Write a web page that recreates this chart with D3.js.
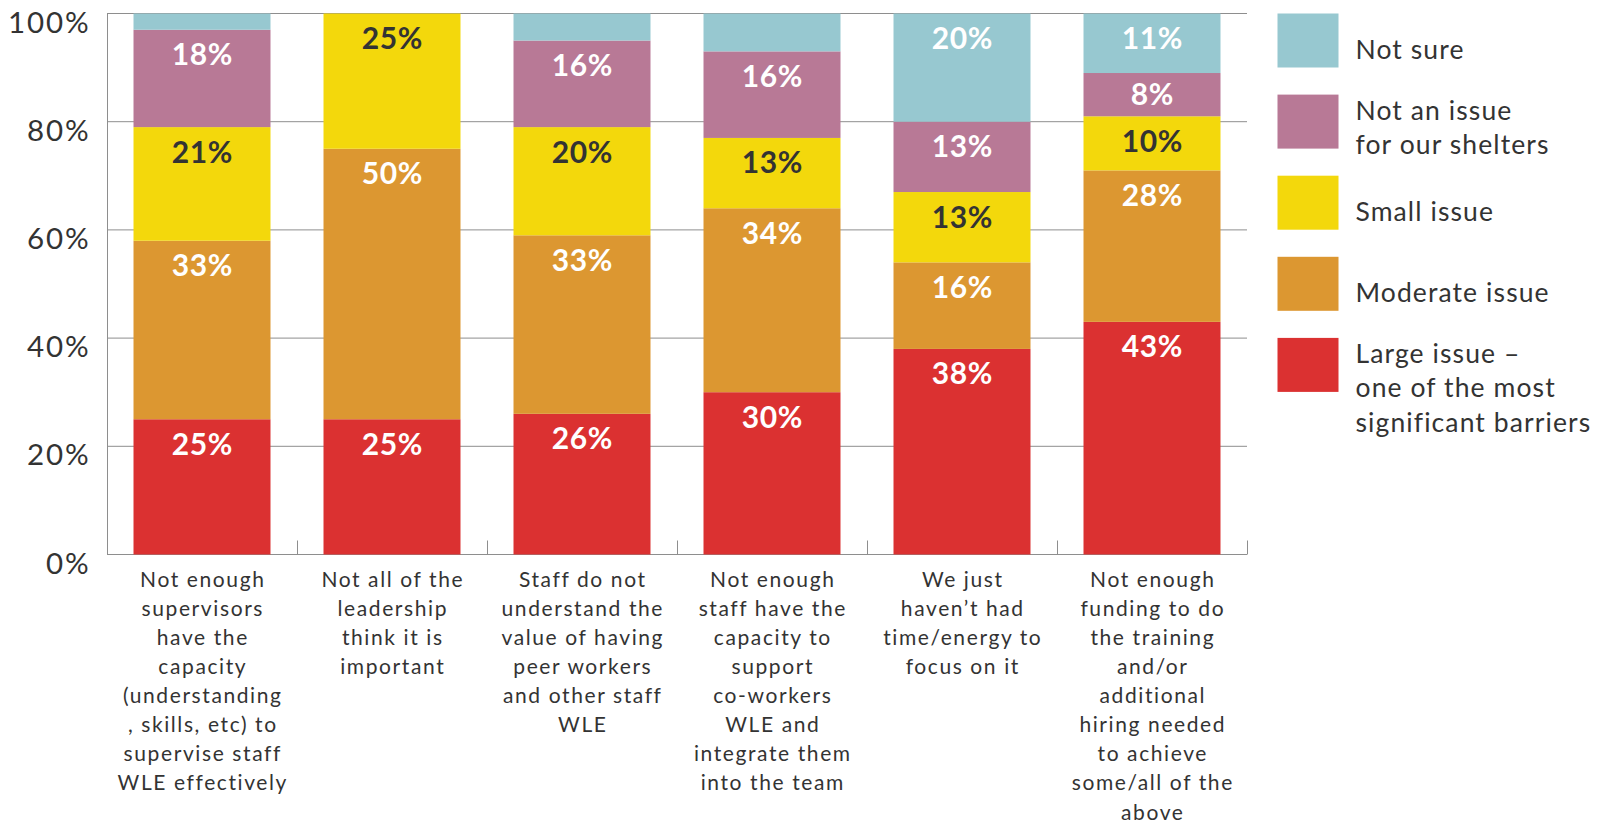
<!DOCTYPE html>
<html>
<head>
<meta charset="utf-8">
<script src="https://cdn.jsdelivr.net/npm/d3@7"></script>
<style>
  html, body { margin: 0; padding: 0; background: #fff; }
  svg { display: block; font-family: Lato, "Open Sans", sans-serif; }
</style>
</head>
<body>
<svg id="chart" width="1602" height="822"></svg>
<script>
// Barriers to staff WLE, share of responses per answer
const categories = [
  ["Not enough", "supervisors", "have the", "capacity", "(understanding", ", skills, etc) to", "supervise staff", "WLE effectively"],
  ["Not all of the", "leadership", "think it is", "important"],
  ["Staff do not", "understand the", "value of having", "peer workers", "and other staff", "WLE"],
  ["Not enough", "staff have the", "capacity to", "support", "co-workers", "WLE and", "integrate them", "into the team"],
  ["We just", "haven\u2019t had", "time/energy to", "focus on it"],
  ["Not enough", "funding to do", "the training", "and/or", "additional", "hiring needed", "to achieve", "some/all of the", "above"]
];

const largeIssue    = [25, 25, 26, 30, 38, 43];
const moderateIssue = [33, 50, 33, 34, 16, 28];
const smallIssue    = [21, 25, 20, 13, 13, 10];
const notAnIssue    = [18,  0, 16, 16, 13,  8];
const notSure       = [ 3,  0,  5,  7, 20, 11];

const seriesNames = ["Large issue \u2013 one of the most significant barriers", "Moderate issue", "Small issue", "Not an issue for our shelters", "Not sure"];
const seriesValues = [largeIssue, moderateIssue, smallIssue, notAnIssue, notSure];
const seriesColors = ["#db3131", "#dc9731", "#f3d80c", "#b87996", "#97c8d0"];
const labelColors  = ["#ffffff", "#ffffff", "#333333", "#ffffff", "#ffffff"];

// Legend entries, top to bottom, with their line breaks
const legendLines = [
  ["Not sure"],
  ["Not an issue", "for our shelters"],
  ["Small issue"],
  ["Moderate issue"],
  ["Large issue \u2013", "one of the most", "significant barriers"]
];
const legendColors = ["#97c8d0", "#b87996", "#f3d80c", "#dc9731", "#db3131"];

const yTicks = [0, 20, 40, 60, 80, 100];

const svg = d3.select("#chart");
const plot = { left: 107, right: 1247, top: 13.5, bottom: 554.5 };

const keys = seriesNames;
const rows = categories.map((c, i) => {
  const r = { idx: i };
  keys.forEach((k, j) => r[k] = seriesValues[j][i]);
  return r;
});
const stacked = d3.stack().keys(keys)(rows);

const x = d3.scaleBand()
  .domain(d3.range(categories.length))
  .range([plot.left, plot.right])
  .paddingInner(0.279)
  .paddingOuter(0.1395);

const y = d3.scaleLinear().domain([0, 100]).range([plot.bottom, plot.top]);

const gridColor = "#8e8e8e";
const textColor = "#333333";

// Horizontal gridlines
svg.append("g").selectAll("line").data(yTicks).join("line")
  .attr("x1", plot.left).attr("x2", plot.right)
  .attr("y1", d => y(d)).attr("y2", d => y(d))
  .attr("stroke", gridColor).attr("stroke-width", 1);

// Left axis line
svg.append("line")
  .attr("x1", plot.left + 0.5).attr("x2", plot.left + 0.5)
  .attr("y1", y(100)).attr("y2", y(0))
  .attr("stroke", gridColor).attr("stroke-width", 1);

// Category boundary ticks on the baseline
const step = x.step();
const gap = step - x.bandwidth();
const boundaries = d3.range(categories.length + 1).map(i =>
  i < categories.length ? x(i) - gap / 2 : x(categories.length - 1) + x.bandwidth() + gap / 2);
svg.append("g").selectAll("line").data(boundaries.slice(1)).join("line")
  .attr("x1", d => Math.round(d) + 0.5).attr("x2", d => Math.round(d) + 0.5)
  .attr("y1", y(0)).attr("y2", y(0) - 14)
  .attr("stroke", gridColor).attr("stroke-width", 1);

// Y tick labels
svg.append("g").selectAll("text").data(yTicks).join("text")
  .attr("x", 90.5).attr("y", d => y(d) + 19)
  .attr("text-anchor", "end")
  .attr("font-size", 29.5)
  .attr("letter-spacing", 1.9)
  .attr("fill", textColor)
  .text(d => d + "%");

// Stacked bars
const layers = svg.append("g").selectAll("g").data(stacked).join("g")
  .attr("fill", (d, i) => seriesColors[i]);
layers.selectAll("rect").data(d => d).join("rect")
  .attr("x", (d, i) => x(i))
  .attr("width", x.bandwidth())
  .attr("y", d => y(d[1]))
  .attr("height", d => y(d[0]) - y(d[1]));

// Value labels
const capH = 0.716 * 30;
stacked.forEach((layer, si) => {
  svg.append("g").selectAll("text").data(layer.filter(d => (d[1] - d[0]) >= 8)).join("text")
    .attr("x", d => x(d.data.idx) + x.bandwidth() / 2 + 0.3)
    .attr("y", d => {
      const top = y(d[1]);
      const h = y(d[0]) - y(d[1]);
      const pad = Math.min(14, (h - capH) / 2);
      return top + pad + capH;
    })
    .attr("text-anchor", "middle")
    .attr("font-size", 30)
    .attr("font-weight", 700)
    .attr("letter-spacing", 0.6)
    .attr("fill", labelColors[si])
    .text(d => Math.round(d[1] - d[0]) + "%");
});

// Category labels
const xl = svg.append("g").selectAll("text").data(categories).join("text")
  .attr("text-anchor", "middle")
  .attr("font-size", 21)
  .attr("letter-spacing", 1.6)
  .attr("fill", textColor);
xl.selectAll("tspan").data((d, i) => d.map(line => ({ line, i }))).join("tspan")
  .attr("x", d => x(d.i) + x.bandwidth() / 2 + 0.8)
  .attr("y", (d, j) => 586.7 + j * 29.1)
  .text(d => d.line);

// Legend
const lg = svg.append("g").selectAll("g").data(legendLines).join("g")
  .attr("transform", (d, i) => `translate(1277.5, ${13.5 + i * 81.1})`);
lg.append("rect")
  .attr("width", 61).attr("height", 54)
  .attr("fill", (d, i) => legendColors[i]);
lg.append("text")
  .attr("font-size", 26.5)
  .attr("letter-spacing", 1.1)
  .attr("fill", textColor)
  .selectAll("tspan").data(d => d.map((line, j) => ({ line, j, n: d.length }))).join("tspan")
  .attr("x", 78)
  .attr("y", d => (d.n === 1 ? 45.5 : 25) + d.j * 34.5)
  .text(d => d.line);
</script>
</body>
</html>
